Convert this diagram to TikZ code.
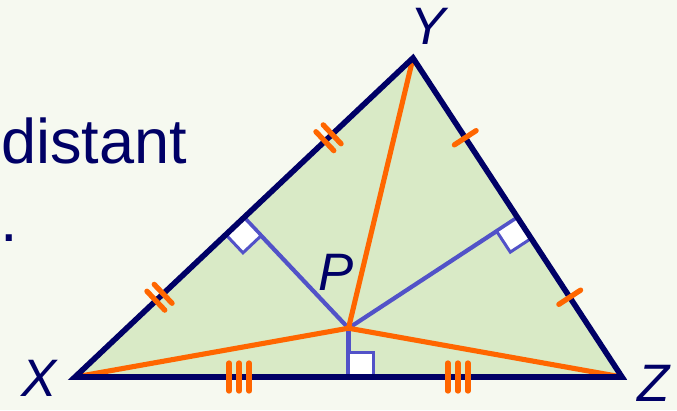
\documentclass[tikz,border=0pt]{standalone}
\usepackage{fontspec}
\setmainfont{Liberation Sans}
\usetikzlibrary{calc,decorations.markings}
\definecolor{paper}{HTML}{F6F9F0}
\definecolor{leaf}{HTML}{D9EAC6}
\definecolor{navy}{HTML}{000066}
\definecolor{tang}{HTML}{FF6600}
\definecolor{perpblue}{HTML}{5252C8}
\begin{document}
\begin{tikzpicture}[x=0.02cm,y=-0.02cm,
  side/.style={navy,line width=3.2pt,line join=miter},
  radius line/.style={tang,line width=2.9pt},
  perp line/.style={perpblue,line width=2.4pt},
  rtsq/.style={perpblue,fill=white,line width=1.7pt},
  tickmark/.style={tang,line width=3pt,line cap=round},
  vlabel/.style={navy,font=\fontsize{30}{34}\selectfont\itshape,inner sep=0pt}]
  \fill[paper] (0,0) rectangle (677,410);
  \clip (0,0) rectangle (677,410);
  % vertices and circumcentre
  \coordinate (X) at (75,377);
  \coordinate (Y) at (413,58);
  \coordinate (Z) at (622,377);
  \coordinate (P) at (348.5,328.2);
  \coordinate (mXY) at ($(X)!0.5!(Y)$);
  \coordinate (mYZ) at ($(Y)!0.5!(Z)$);
  \coordinate (mXZ) at ($(X)!0.5!(Z)$);
  \fill[leaf] (X) -- (Y) -- (Z) -- cycle;
  % perpendicular bisectors with right-angle marks
  \foreach \m/\o in {mXY/X,mYZ/Z,mXZ/Z} {
    \draw[perp line] (P) -- (\m);
    \coordinate (a) at ($(\m)!0.5cm!(\o)$);
    \coordinate (b) at ($(\m)!0.5cm!(P)$);
    \draw[rtsq] (\m) -- (a) -- ($(a)+(b)-(\m)$) -- (b) -- cycle;
  }
  \foreach \v in {X,Y,Z}
    \draw[radius line] (P) -- (\v);
  \draw[side] (X) -- (Y) -- (Z) -- cycle;
  % equal-part ticks
  \path[decoration={markings,
      mark=at position 0.25 with {\foreach \s in {-0.1,0.1} \draw[tickmark] (\s cm,-0.26cm) -- (\s cm,0.26cm);},
      mark=at position 0.75 with {\foreach \s in {-0.1,0.1} \draw[tickmark] (\s cm,-0.26cm) -- (\s cm,0.26cm);}},
    decorate] (X) -- (Y);
  \path[decoration={markings,
      mark=at position 0.25 with {\draw[tickmark] (0,-0.26cm) -- (0,0.26cm);},
      mark=at position 0.75 with {\draw[tickmark] (0,-0.26cm) -- (0,0.26cm);}},
    decorate] (Y) -- (Z);
  \path[decoration={markings,
      mark=at position 0.3 with {\foreach \s in {-0.2,0,0.2} \draw[tickmark] (\s cm,-0.28cm) -- (\s cm,0.28cm);},
      mark=at position 0.7 with {\foreach \s in {-0.2,0,0.2} \draw[tickmark] (\s cm,-0.28cm) -- (\s cm,0.28cm);}},
    decorate] (X) -- (Z);
  % labels
  \node[vlabel] (lX) at (39,378) {X};
  \node[vlabel] (lY) at (428,26) {Y};
  \node[vlabel] (lZ) at (654,383) {Z};
  \node[vlabel] (lP) at (336,272) {P};
  \node[navy,font=\fontsize{35.9}{40}\selectfont,inner sep=0pt,anchor=base west] (word) at (1,163) {distant};
  \node[navy,font=\fontsize{35.9}{40}\selectfont,inner sep=0pt,anchor=base west] (dot) at (0,241) {.};
\end{tikzpicture}
\end{document}
